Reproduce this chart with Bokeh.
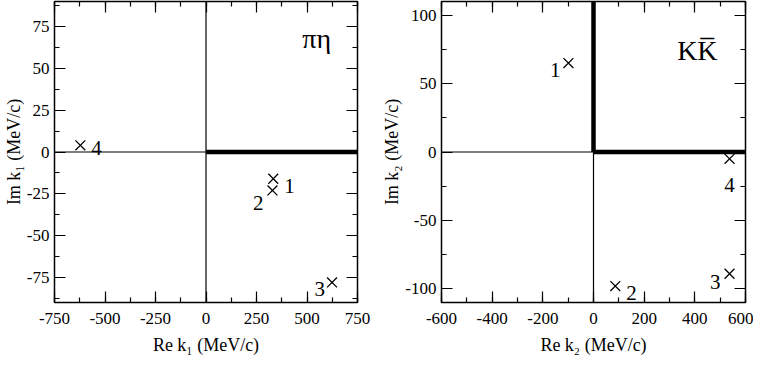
import numpy as np
from bokeh.plotting import figure
from bokeh.layouts import row
from bokeh.models import (FixedTicker, LinearAxis, Span, Label, ColumnDataSource,
                          Range1d, CustomJSTickFormatter)
from bokeh.core.properties import value
from bokeh.embed import file_html
from bokeh.resources import INLINE

# ---------------- data ----------------
# pi-eta channel (k1), poles
pe_re = [333, 329, 624, -622]
pe_im = [-16, -23, -78, 4]
pe_lab = ["1", "2", "3", "4"]
# K Kbar channel (k2), poles
kk_re = [-99, 86, 537, 537]
kk_im = [65, -98, -89, -5]
kk_lab = ["1", "2", "3", "4"]

# cuts (thick lines)
pe_cut_x0, pe_cut_y0, pe_cut_x1, pe_cut_y1 = [0], [0], [750], [0]
kk_cut_x0, kk_cut_y0, kk_cut_x1, kk_cut_y1 = [0, 0], [0, 0], [600, 0], [0, 110]

# axes
pe_xrange, pe_yrange = (-750, 750), (-90, 90)
kk_xrange, kk_yrange = (-600, 600), (-110, 110)
pe_xticks = [-750, -500, -250, 0, 250, 500, 750]
pe_xminor = [-750, -625, -500, -375, -250, -125, 0, 125, 250, 375, 500, 625, 750]
pe_yticks = [-75, -50, -25, 0, 25, 50, 75]
pe_yminor = [-87.5, -75, -62.5, -50, -37.5, -25, -12.5, 0, 12.5, 25, 37.5, 50, 62.5, 75, 87.5]
kk_xticks = [-600, -400, -200, 0, 200, 400, 600]
kk_xminor = [-600, -500, -400, -300, -200, -100, 0, 100, 200, 300, 400, 500, 600]
kk_yticks = [-100, -50, 0, 50, 100]
kk_yminor = [-100, -75, -50, -25, 0, 25, 50, 75, 100]

pe_title, kk_title = "πη", "KK\u0305"
pe_xlabel, pe_ylabel = "Re k\u2081 (MeV/c)", "Im k\u2081 (MeV/c)"
kk_xlabel, kk_ylabel = "Re k\u2082 (MeV/c)", "Im k\u2082 (MeV/c)"

# ---------------- styles ----------------
FONT = "Liberation Serif"
pe_lab_style = dict(align=["left", "right", "right", "left"],
                    xoff=[11, -9, -7, 11], yoff=[7, 13, 7, 3])
kk_lab_style = dict(align=["right", "left", "right", "center"],
                    xoff=[-8, 11, -9, 0], yoff=[7, 7, 8, 26])


def style_axis(ax, labels=True):
    ax.axis_line_color = None
    ax.major_tick_in = 11
    ax.major_tick_out = 0
    ax.minor_tick_in = 5
    ax.minor_tick_out = 0
    ax.major_tick_line_color = "black"
    ax.minor_tick_line_color = "black"
    ax.major_tick_line_width = 1.2
    ax.minor_tick_line_width = 1.2
    if labels:
        ax.major_label_text_font = FONT
        ax.major_label_text_font_size = "17px"
        ax.major_label_text_color = "black"
        ax.axis_label_text_font = FONT
        ax.axis_label_text_font_size = "18px"
        ax.axis_label_text_font_style = "normal"
        ax.axis_label_text_color = "black"
    else:
        ax.formatter = CustomJSTickFormatter(code="return ''")
        ax.major_label_standoff = 0
        ax.axis_label_standoff = 0


def panel(fw, bl, br, xr, yr, xt, xm, yt, ym, re, im, lab, lst,
          cx0, cy0, cx1, cy1, title, tx, ty, xlabel, ylabel):
    p = figure(frame_width=fw, frame_height=301, x_range=Range1d(*xr), y_range=Range1d(*yr),
               output_backend="svg", toolbar_location=None,
               min_border_left=bl, min_border_right=br, min_border_top=1,
               min_border_bottom=60)
    p.grid.visible = False
    p.outline_line_color = "black"
    p.outline_line_width = 1.5
    p.background_fill_color = "white"
    p.border_fill_color = "white"

    p.xaxis[0].ticker = FixedTicker(ticks=xt, minor_ticks=xm)
    p.yaxis[0].ticker = FixedTicker(ticks=yt, minor_ticks=ym)
    p.xaxis[0].major_label_overrides = {t: str(t) for t in xt}
    p.yaxis[0].major_label_overrides = {t: str(t) for t in yt}
    style_axis(p.xaxis[0])
    style_axis(p.yaxis[0])
    p.xaxis[0].axis_label = xlabel
    p.yaxis[0].axis_label = ylabel
    p.xaxis[0].major_label_standoff = 10
    p.xaxis[0].axis_label_standoff = 8
    p.yaxis[0].major_label_standoff = 5
    p.yaxis[0].axis_label_standoff = 0

    top = LinearAxis(ticker=FixedTicker(ticks=xt, minor_ticks=xm))
    style_axis(top, labels=False)
    p.add_layout(top, "above")
    right = LinearAxis(ticker=FixedTicker(ticks=yt, minor_ticks=ym))
    style_axis(right, labels=False)
    p.add_layout(right, "right")

    p.add_layout(Span(location=0, dimension="width", line_color="black", line_width=1.2))
    p.add_layout(Span(location=0, dimension="height", line_color="black", line_width=1.2))
    p.segment(x0=cx0, y0=cy0, x1=cx1, y1=cy1, line_color="black", line_width=4.5)

    src = ColumnDataSource(dict(x=re, y=im, t=lab, a=lst["align"],
                                xo=lst["xoff"], yo=lst["yoff"]))
    p.scatter("x", "y", source=src, marker="x", size=14, line_color="black",
              line_width=1.3)
    p.text("x", "y", text="t", source=src, text_align="a", x_offset="xo",
           y_offset="yo", text_baseline="alphabetic", text_font=value(FONT),
           text_font_size="21px", text_color="black")

    p.add_layout(Label(x=tx, y=ty, text=title, text_align="center",
                       text_baseline="alphabetic", text_font=FONT,
                       text_font_size="28px", text_color="black"))
    return p


p1 = panel(303, 48, 21, pe_xrange, pe_yrange, pe_xticks, pe_xminor, pe_yticks, pe_yminor,
           pe_re, pe_im, pe_lab, pe_lab_style, pe_cut_x0, pe_cut_y0, pe_cut_x1, pe_cut_y1,
           pe_title, 548, 68, pe_xlabel, pe_ylabel)
p2 = panel(304, 63, 8, kk_xrange, kk_yrange, kk_xticks, kk_xminor, kk_yticks, kk_yminor,
           kk_re, kk_im, kk_lab, kk_lab_style, kk_cut_x0, kk_cut_y0, kk_cut_x1, kk_cut_y1,
           kk_title, 410, 74, kk_xlabel, kk_ylabel)

p = row(p1, p2)
open("out.html", "w").write(file_html(p, INLINE))
